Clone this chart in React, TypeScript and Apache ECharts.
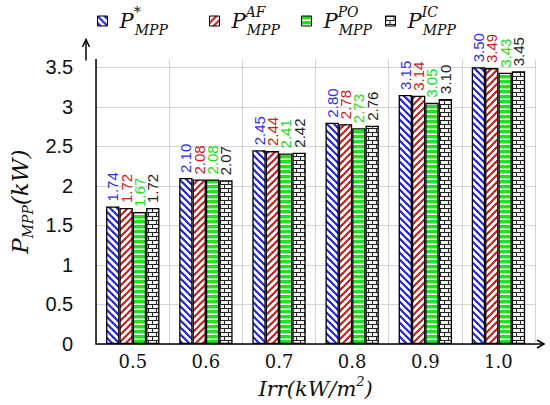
import React, { useEffect, useRef } from 'react';
import * as echarts from 'echarts';

const categories = ['0.5', '0.6', '0.7', '0.8', '0.9', '1.0'];
const seriesNames = ['P*MPP', 'PAFMPP', 'PPOMPP', 'PICMPP'];
const legendSup = ['*', 'AF', 'PO', 'IC'];
const pStar = [1.74, 2.1, 2.45, 2.8, 3.15, 3.5];
const pAF = [1.72, 2.08, 2.44, 2.78, 3.14, 3.49];
const pPO = [1.67, 2.08, 2.41, 2.73, 3.05, 3.43];
const pIC = [1.72, 2.07, 2.42, 2.76, 3.1, 3.45];
const labelColors = ['#3030f0', '#cc2020', '#22dd22', '#222222'];
const legendLeft = [97, 209, 301, 385];

const GRID_LEFT = 86;
const GRID_RIGHT = 15;
const GRID_BOTTOM = 61;
const Y_MAX = 3.6;
const GRID_TOP = 405 - GRID_BOTTOM - Y_MAX * 79.06;

function diag(color: string, back: boolean) {
  const s = 7;
  const c = document.createElement('canvas');
  c.width = s;
  c.height = s;
  const g = c.getContext('2d')!;
  g.fillStyle = '#ffffff';
  g.fillRect(0, 0, s, s);
  g.strokeStyle = color;
  g.lineWidth = 2.2;
  for (const k of [-s, 0, s]) {
    g.beginPath();
    if (back) {
      g.moveTo(k - 1, -1);
      g.lineTo(k + s + 1, s + 1);
    } else {
      g.moveTo(k + s + 1, -1);
      g.lineTo(k - 1, s + 1);
    }
    g.stroke();
  }
  return { image: c.toDataURL(), repeat: 'repeat', imageWidth: s, imageHeight: s };
}

function horiz(color: string) {
  const w = 4, h = 5;
  const c = document.createElement('canvas');
  c.width = w;
  c.height = h;
  const g = c.getContext('2d')!;
  g.fillStyle = '#ffffff';
  g.fillRect(0, 0, w, h);
  g.fillStyle = color;
  g.fillRect(0, 0, w, 3.5);
  return { image: c.toDataURL(), repeat: 'repeat', imageWidth: w, imageHeight: h };
}

function brick() {
  const w = 8, h = 8;
  const c = document.createElement('canvas');
  c.width = w;
  c.height = h;
  const g = c.getContext('2d')!;
  g.fillStyle = '#f2f2f2';
  g.fillRect(0, 0, w, h);
  g.fillStyle = '#222222';
  g.fillRect(0, 0, w, 1);
  g.fillRect(0, 4, w, 1);
  g.fillRect(0, 0, 1, 4);
  g.fillRect(4, 4, 1, 4);
  return { image: c.toDataURL(), repeat: 'repeat', imageWidth: w, imageHeight: h };
}

export default function App() {
  const ref = useRef<HTMLDivElement>(null);
  useEffect(() => {
    if (!ref.current) return;
    const chart = echarts.init(ref.current, null, { renderer: 'svg' });
    const patterns = [diag('#2222e0', true), diag('#c02020', false), horiz('#22e022'), brick()];
    const values = [pStar, pAF, pPO, pIC];
    const italicSerif = { fontFamily: 'DejaVu Serif', fontStyle: 'italic', color: '#111' };

    const series = seriesNames.map((name, i) => ({
      name,
      type: 'bar',
      data: values[i],
      barGap: '0%',
      barCategoryGap: '27%',
      itemStyle: { color: patterns[i] as any, borderColor: '#000', borderWidth: 1.3 },
      label: {
        show: true,
        position: 'top',
        rotate: 90,
        align: 'left',
        verticalAlign: 'middle',
        distance: 5,
        color: labelColors[i],
        fontSize: 15,
        fontFamily: 'Liberation Sans',
        formatter: (p: any) => Number(p.value).toFixed(2),
      },
    }));

    const legends = seriesNames.map((name, i) => ({
      data: [name],
      left: legendLeft[i],
      top: 5,
      padding: 0,
      icon: 'rect',
      itemWidth: 10,
      itemHeight: 10,
      itemStyle: { borderColor: '#000', borderWidth: 1 },
      formatter: () => `{p|P}{sup|${legendSup[i]}}{sub|MPP}`,
      textStyle: {
        rich: {
          p: { ...italicSerif, fontSize: 21, lineHeight: 32, padding: [0, 0, 0, 7] },
          sup: { ...italicSerif, fontSize: 14, lineHeight: 14, verticalAlign: 'top', width: 1 },
          sub: { ...italicSerif, fontSize: 14, lineHeight: 10, verticalAlign: 'bottom' },
        },
      },
    }));

    const axisX = GRID_LEFT;
    const axisY = 405 - GRID_BOTTOM;
    const rightX = 550 - GRID_RIGHT;

    chart.setOption({
      animation: false,
      textStyle: { fontFamily: 'Liberation Sans' },
      legend: legends,
      grid: { left: GRID_LEFT, right: GRID_RIGHT, top: GRID_TOP, bottom: GRID_BOTTOM, containLabel: false },
      xAxis: {
        type: 'category',
        data: categories,
        axisLine: { show: true, lineStyle: { color: '#000', width: 1.5 } },
        axisTick: { show: false },
        axisLabel: { fontFamily: 'DejaVu Serif', fontSize: 18, color: '#111', margin: 8 },
        splitLine: { show: true, interval: 0, lineStyle: { color: '#d4d4d4', width: 1 } },
        name: '{t|Irr(kW/m}{s|2}{t|)}',
        nameLocation: 'middle',
        nameGap: 26,
        nameTextStyle: {
          rich: {
            t: { ...italicSerif, fontSize: 21, lineHeight: 28 },
            s: { ...italicSerif, fontSize: 13, lineHeight: 14, verticalAlign: 'top' },
          },
        },
      },
      yAxis: {
        type: 'value',
        min: 0,
        max: Y_MAX,
        interval: 0.5,
        axisLine: { show: true, lineStyle: { color: '#000', width: 1.5 } },
        axisTick: { show: false },
        axisLabel: {
          fontFamily: 'Liberation Sans',
          fontSize: 20,
          color: '#111',
          margin: 23,
          formatter: (v: number) => (Math.abs(v - Y_MAX) < 1e-6 ? '' : String(v)),
        },
        splitLine: { show: true, showMaxLine: false, lineStyle: { color: '#d4d4d4', width: 1 } },
        name: '{p|P}{sub|MPP}{p|(kW)}',
        nameLocation: 'middle',
        nameRotate: 90,
        nameGap: 56,
        nameTextStyle: {
          rich: {
            p: { ...italicSerif, fontSize: 23, lineHeight: 30 },
            sub: { ...italicSerif, fontSize: 14, lineHeight: 16, verticalAlign: 'bottom' },
          },
        },
      },
      graphic: [
        { type: 'line', shape: { x1: axisX, y1: GRID_TOP + 1, x2: axisX, y2: 39.5 }, style: { stroke: '#000', lineWidth: 1.5 } },
        { type: 'polyline', shape: { points: [[axisX - 3.5, 47], [axisX, 39.5], [axisX + 3.5, 47]] }, style: { stroke: '#000', lineWidth: 1.5, fill: null } },
        { type: 'line', shape: { x1: rightX - 1, y1: axisY, x2: 544, y2: axisY }, style: { stroke: '#000', lineWidth: 1.5 } },
        { type: 'polyline', shape: { points: [[537, axisY - 4], [544, axisY], [537, axisY + 4]] }, style: { stroke: '#000', lineWidth: 1.5, fill: null } },
      ],
      series,
    } as any);
    return () => chart.dispose();
  }, []);
  return <div ref={ref} style={{ position: 'fixed', left: 0, top: 0, width: 550, height: 405, background: '#fff' }} />;
}
